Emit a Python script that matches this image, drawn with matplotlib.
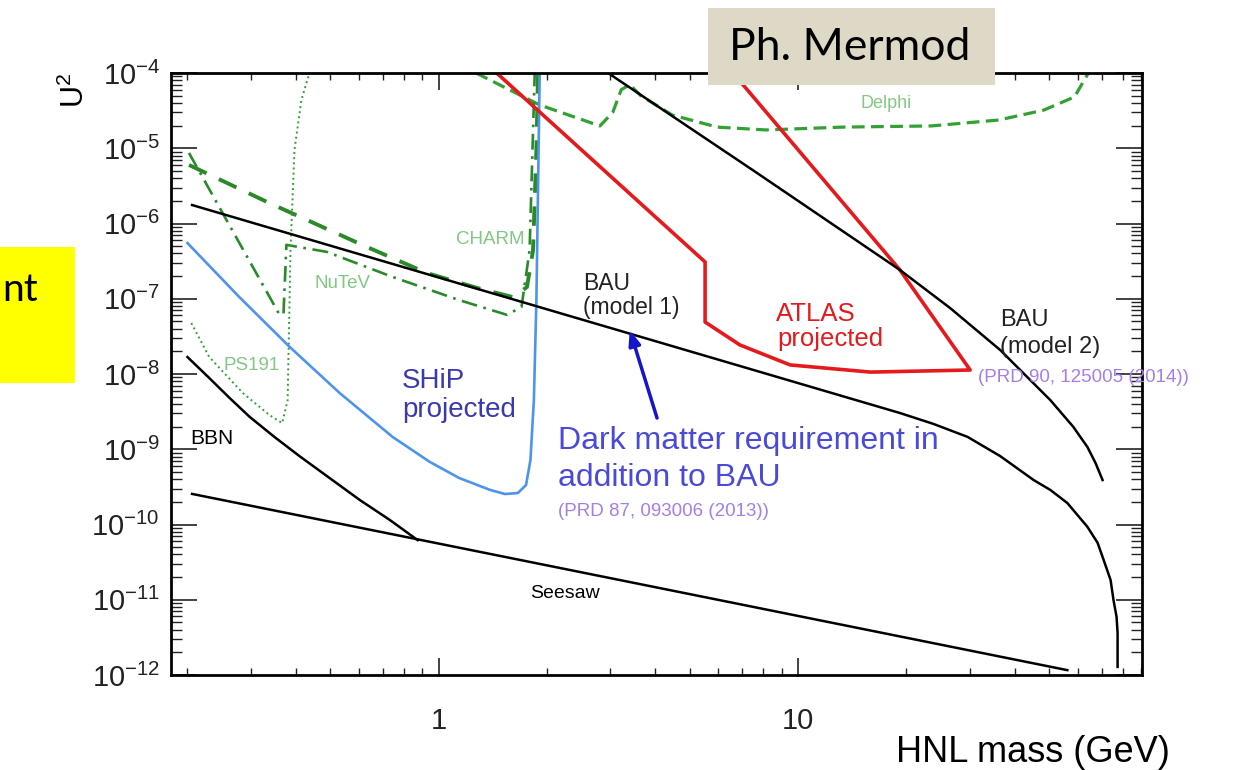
import matplotlib
matplotlib.use("Agg")
import matplotlib.pyplot as plt
from matplotlib.patches import Rectangle
from matplotlib.ticker import LogLocator, NullFormatter, FixedLocator, FixedFormatter
import numpy as np

plt.rcParams['font.family'] = ['Liberation Sans', 'DejaVu Sans']
plt.rcParams['mathtext.fontset'] = 'custom'
plt.rcParams['mathtext.rm'] = 'Liberation Sans'
plt.rcParams['mathtext.it'] = 'Liberation Sans:italic'

# ---------------- data (HNL mass in GeV, U^2) ----------------
seesaw_mass = [0.206, 56.1]
seesaw_u2 = [2.55e-10, 1.16e-12]

bbn_mass = [0.200, 0.230, 0.262, 0.298, 0.349, 0.410, 0.497, 0.603, 0.731, 0.874]
bbn_u2 = [1.68e-8, 8.85e-9, 4.8e-9, 2.69e-9, 1.46e-9, 8.1e-10, 4.15e-10, 2.12e-10, 1.15e-10, 6.2e-11]

bau1_mass = [0.206, 19.2, 23.8, 29.6, 36.5, 45.2, 50.3, 56.1, 63.8, 68.1, 70.8, 74.0, 75.4, 76.9, 77.4, 77.4]
bau1_u2 = [1.76e-6, 3.03e-9, 2.17e-9, 1.46e-9, 8.1e-10, 3.9e-10, 2.88e-10, 1.93e-10, 9.3e-11,
           5.7e-11, 3.37e-11, 1.83e-11, 9.9e-12, 5.9e-12, 3.6e-12, 1.28e-12]

bau2_mass = [2.96, 7.54, 19.2, 26.5, 36.5, 50.3, 58.3, 63.8, 67.2, 70.3]
bau2_u2 = [1e-4, 4.99e-6, 2.41e-7, 7.5e-8, 2.08e-8, 4.5e-9, 1.98e-9, 1.07e-9, 6.56e-10, 3.9e-10]

delphi_mass = [1.27, 1.91, 2.81, 3.05, 3.22, 3.40, 3.65, 4.46, 5.95, 8.14, 13.3, 23.5, 36.1, 48.1, 58.7, 64.2]
delphi_u2 = [1e-4, 3.76e-5, 1.98e-5, 3.0e-5, 6.0e-5, 7.0e-5, 5.0e-5, 2.77e-5, 1.91e-5, 1.75e-5, 1.91e-5,
             1.98e-5, 2.37e-5, 3.2e-5, 4.8e-5, 1e-4]

atlas_mass = [1.45, 5.51, 5.51, 6.89, 9.5, 15.9, 30.1, 19.2, 6.59]
atlas_u2 = [1e-4, 3.08e-7, 4.9e-8, 2.43e-8, 1.32e-8, 1.06e-8, 1.13e-8, 2.41e-7, 1e-4]

ship_mass = [0.200, 0.279, 0.385, 0.530, 0.744, 0.944, 1.14, 1.39, 1.53, 1.66, 1.75, 1.80, 1.84, 1.87, 1.91]
ship_u2 = [5.5e-7, 1.05e-7, 2.29e-8, 5.6e-9, 1.46e-9, 6.8e-10, 4.15e-10, 2.88e-10, 2.54e-10,
           2.62e-10, 3.35e-10, 7.2e-10, 4.5e-9, 9.6e-8, 1e-4]

charm_mass = [0.202, 0.338, 0.630, 0.927, 1.28, 1.61, 1.76, 1.83, 1.87, 1.89]
charm_u2 = [6.0e-6, 1.87e-6, 4.9e-7, 2.2e-7, 1.39e-7, 1.05e-7, 1.43e-7, 4.4e-7, 9.5e-6, 1e-4]

nutev_mass = [0.202, 0.361, 0.370, 0.377, 0.488, 0.744, 1.14, 1.55, 1.70, 1.79, 1.85]
nutev_u2 = [8.65e-6, 6.1e-8, 6.3e-8, 5.2e-7, 4.2e-7, 1.95e-7, 9.6e-8, 6.1e-8, 7.8e-8, 4.4e-7, 1e-4]

ps191_mass = [0.205, 0.230, 0.285, 0.338, 0.367, 0.380, 0.387, 0.397, 0.415, 0.437]
ps191_u2 = [4.76e-8, 1.68e-8, 5.6e-9, 2.85e-9, 2.23e-9, 4.5e-9, 4.4e-7, 9.5e-6, 4.4e-5, 1e-4]

x_tick_vals = [1, 10]
x_tick_labels = ['1', '10']
y_tick_exps = list(range(-12, -3))

# ---------------- figure ----------------
W, H = 1236, 770
fig = plt.figure(figsize=(W / 100, H / 100), dpi=100)
L, R, T, B = 171, 1142, 73, 675
ax = fig.add_axes([L / W, 1 - B / H, (R - L) / W, (B - T) / H])
ax.set_xscale('log')
ax.set_yscale('log')
ax.set_xlim(0.18, 90.5)
ax.set_ylim(1e-12, 1e-4)

green_dark = '#2a8a2a'
green_mid = '#33a033'
green_lbl = '#82c882'

ax.plot(delphi_mass, delphi_u2, color=green_mid, lw=2.3, dashes=(4, 2))
ax.plot(charm_mass, charm_u2, color=green_dark, lw=2.8, dashes=(5, 3.5))
ax.plot(nutev_mass, nutev_u2, color=green_dark, lw=1.9, dashes=(6, 2.5, 1, 2.5))
ax.plot(ps191_mass, ps191_u2, color=green_mid, lw=1.4, ls=':')
ax.plot(ship_mass, ship_u2, color='#4d94ec', lw=1.9)
ax.plot(atlas_mass, atlas_u2, color='#e41a1c', lw=2.6)
for m, u in [(seesaw_mass, seesaw_u2), (bbn_mass, bbn_u2),
             (bau1_mass, bau1_u2), (bau2_mass, bau2_u2)]:
    ax.plot(m, u, color='black', lw=1.8)

# ticks
ax.xaxis.set_major_locator(FixedLocator(x_tick_vals))
ax.xaxis.set_major_formatter(FixedFormatter(x_tick_labels))
ax.xaxis.set_minor_locator(LogLocator(base=10, subs=np.arange(2, 10), numticks=100))
ax.xaxis.set_minor_formatter(NullFormatter())
ax.yaxis.set_major_locator(FixedLocator([10.0 ** k for k in y_tick_exps]))
ax.yaxis.set_major_formatter(FixedFormatter([r'$10^{%d}$' % k for k in y_tick_exps]))
ax.yaxis.set_minor_locator(LogLocator(base=10, subs=np.arange(2, 10), numticks=100))
ax.yaxis.set_minor_formatter(NullFormatter())
ax.tick_params(which='both', direction='in', top=True, right=True, colors='#222222')
ax.tick_params(axis='y', which='major', length=19, width=1.2, labelsize=21, pad=8)
ax.tick_params(axis='y', which='minor', length=8, width=1.0)
ax.tick_params(axis='x', which='major', length=12, width=1.2, labelsize=21, pad=23)
ax.tick_params(axis='x', which='minor', length=5, width=1.0)
for s in ax.spines.values():
    s.set_linewidth(2.0)

def axpos(px, py):
    return ((px - L) / (R - L), (B - py) / (B - T))

def label(px, py, s, size, color, ha='left'):
    x, y = axpos(px, py)
    ax.text(x, y, s, transform=ax.transAxes, fontsize=size, color=color,
            ha=ha, va='center', clip_on=False)

label(886, 103, 'Delphi', 13, green_lbl, ha='center')
label(490, 239, 'CHARM', 13.5, green_lbl, ha='center')
label(343, 283, 'NuTeV', 13.5, green_lbl, ha='center')
label(252, 366, 'PS191', 13.5, green_lbl, ha='center')
label(190, 438, 'BBN', 15, 'black')
label(530, 593, 'Seesaw', 14, 'black')
label(583, 283, 'BAU', 16.5, '#222222')
label(583, 308, '(model 1)', 16.5, '#222222')
label(1000, 320, 'BAU', 17, '#222222')
label(1000, 347, '(model 2)', 17, '#222222')
label(978, 378, '(PRD 90, 125005 (2014))', 13.5, '#a57ee8')
label(776, 314, 'ATLAS', 18.5, '#e41a1c')
label(777, 339, 'projected', 18.5, '#e41a1c')
label(402, 381, 'SHiP', 20, '#3a3ab0')
label(402, 410, 'projected', 20, '#3a3ab0')
label(558, 441, 'Dark matter requirement in', 23, '#4a4ad8')
label(558, 478, 'addition to BAU', 23, '#4a4ad8')
label(558, 511, '(PRD 87, 093006 (2013))', 13.5, '#a57ee8')

ax.annotate('', xy=(3.40, 3.85e-8), xytext=(4.05, 2.6e-9),
            arrowprops=dict(arrowstyle='-|>,head_length=0.9,head_width=0.35',
                            color='#1515cc', lw=2.5, shrinkA=0, shrinkB=0))

# figure-level decorations
fig.text(75 / W, 1 - 90 / H, r'U$^2$', rotation=90, ha='center', va='center', fontsize=22)
fig.text(1170 / W, 1 - 752 / H, 'HNL mass (GeV)', ha='right', va='center', fontsize=26)

fig.add_artist(Rectangle((708 / W, 1 - 85 / H), (995 - 708) / W, 77 / H,
                         transform=fig.transFigure, facecolor='#ddd9c6',
                         edgecolor='none', zorder=10))
fig.text(729 / W, 1 - 47 / H, 'Ph. Mermod', fontsize=32, family='Lato',
         ha='left', va='center', zorder=11)

fig.add_artist(Rectangle((0, 1 - 383 / H), 75 / W, 136 / H,
                         transform=fig.transFigure, facecolor='#ffff00',
                         edgecolor='none', zorder=10))
fig.text(38 / W, 1 - 290 / H, 'nt', fontsize=28, family='Lato',
         ha='right', va='center', zorder=11)

fig.savefig('out.png', dpi=100, facecolor='white')
